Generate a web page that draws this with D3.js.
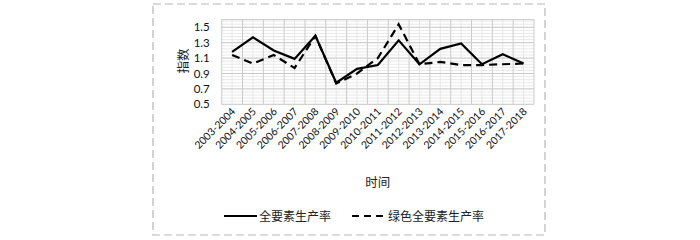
<!DOCTYPE html>
<html><head><meta charset="utf-8">
<script src="https://cdn.jsdelivr.net/npm/d3@7"></script>
<style>body{margin:0;background:#fff}</style>
</head><body>
<svg id="c" width="700" height="240"></svg>
<script>
const categories = ["2003-2004","2004-2005","2005-2006","2006-2007","2007-2008","2008-2009","2009-2010","2010-2011","2011-2012","2012-2013","2013-2014","2014-2015","2015-2016","2016-2017","2017-2018"];
const tfp = [1.18,1.37,1.20,1.09,1.39,0.78,0.96,1.01,1.33,1.02,1.22,1.29,1.02,1.15,1.03];
const greenTfp = [1.14,1.03,1.14,0.97,1.39,0.77,0.90,1.10,1.54,1.02,1.05,1.01,1.01,1.02,1.03];
const yTicks = [0.5,0.7,0.9,1.1,1.3,1.5];
const seriesNames = ["全要素生产率","绿色全要素生产率"];

const svg = d3.select("#c");
const font = "Lato, 'Open Sans', sans-serif";
const cjk = "'Noto Sans CJK SC', sans-serif";

svg.append("rect").attr("x",153).attr("y",4).attr("width",392).attr("height",231)
  .attr("fill","none").attr("stroke","#b8b8b8").attr("stroke-width",1.2).attr("stroke-dasharray","8,4");

const L=221.7, R=534, T=19.6, B=104.3;
const x = d3.scaleBand().domain(categories).range([L,R]).padding(0);
const y = d3.scaleLinear().domain([0.5,1.6]).range([B,T]);

const g = svg.append("g");
d3.range(0.5,1.6001,0.04).forEach(v=>{
  g.append("line").attr("x1",L).attr("x2",R).attr("y1",y(v)).attr("y2",y(v)).attr("stroke","#e3e3e3").attr("stroke-width",0.8);
});
categories.forEach(c=>{
  const cx=x(c)+x.bandwidth()/2;
  g.append("line").attr("x1",cx).attr("x2",cx).attr("y1",T).attr("y2",B).attr("stroke","#e3e3e3").attr("stroke-width",0.8);
});
d3.range(0.5,1.6001,0.2).concat([1.6]).forEach(v=>{
  g.append("line").attr("x1",L).attr("x2",R).attr("y1",y(v)).attr("y2",y(v)).attr("stroke","#cbcbcb").attr("stroke-width",1);
});
categories.concat([null]).forEach(c=>{
  const xx = c===null ? R : x(c);
  g.append("line").attr("x1",xx).attr("x2",xx).attr("y1",T).attr("y2",B).attr("stroke","#cbcbcb").attr("stroke-width",1);
});

const yAxis = d3.axisLeft(y).tickValues(yTicks).tickFormat(d3.format(".1f")).tickSize(0).tickPadding(12);
const ya = svg.append("g").attr("transform",`translate(${L},0)`).call(yAxis);
ya.select(".domain").remove();
ya.selectAll("text").attr("font-family",font).attr("font-size",11.5).attr("fill","#111");

const xAxis = d3.axisBottom(x).tickSize(0).tickPadding(0);
const xa = svg.append("g").attr("transform",`translate(0,${B})`).call(xAxis);
xa.select(".domain").remove();
xa.selectAll("text").attr("font-family",font).attr("font-size",10.5).attr("fill","#111")
  .attr("text-anchor","end").attr("dy",0)
  .attr("transform","translate(4,8) rotate(-45)");

const line = d3.line().x((d,i)=>x(categories[i])+x.bandwidth()/2).y(d=>y(d));
svg.append("path").datum(greenTfp).attr("d",line).attr("fill","none").attr("stroke","#000").attr("stroke-width",2.2).attr("stroke-dasharray","8,5");
svg.append("path").datum(tfp).attr("d",line).attr("fill","none").attr("stroke","#000").attr("stroke-width",2.2);

svg.append("text").attr("transform",`translate(188,61) rotate(-90)`).attr("text-anchor","middle")
  .attr("font-family",cjk).attr("font-size",12.5).attr("fill","#222").text("指数");
svg.append("text").attr("x",(L+R)/2).attr("y",187).attr("text-anchor","middle")
  .attr("font-family",cjk).attr("font-size",12.5).attr("fill","#222").text("时间");

const ly=216;
svg.append("line").attr("x1",224).attr("x2",257).attr("y1",ly).attr("y2",ly).attr("stroke","#000").attr("stroke-width",2.2);
svg.append("text").attr("x",259).attr("y",ly+4.5).attr("font-family",cjk).attr("font-size",12).attr("fill","#222").text(seriesNames[0]);
svg.append("line").attr("x1",352).attr("x2",386).attr("y1",ly).attr("y2",ly).attr("stroke","#000").attr("stroke-width",2.2).attr("stroke-dasharray","7,5");
svg.append("text").attr("x",388).attr("y",ly+4.5).attr("font-family",cjk).attr("font-size",12).attr("fill","#222").text(seriesNames[1]);
</script>
</body></html>
